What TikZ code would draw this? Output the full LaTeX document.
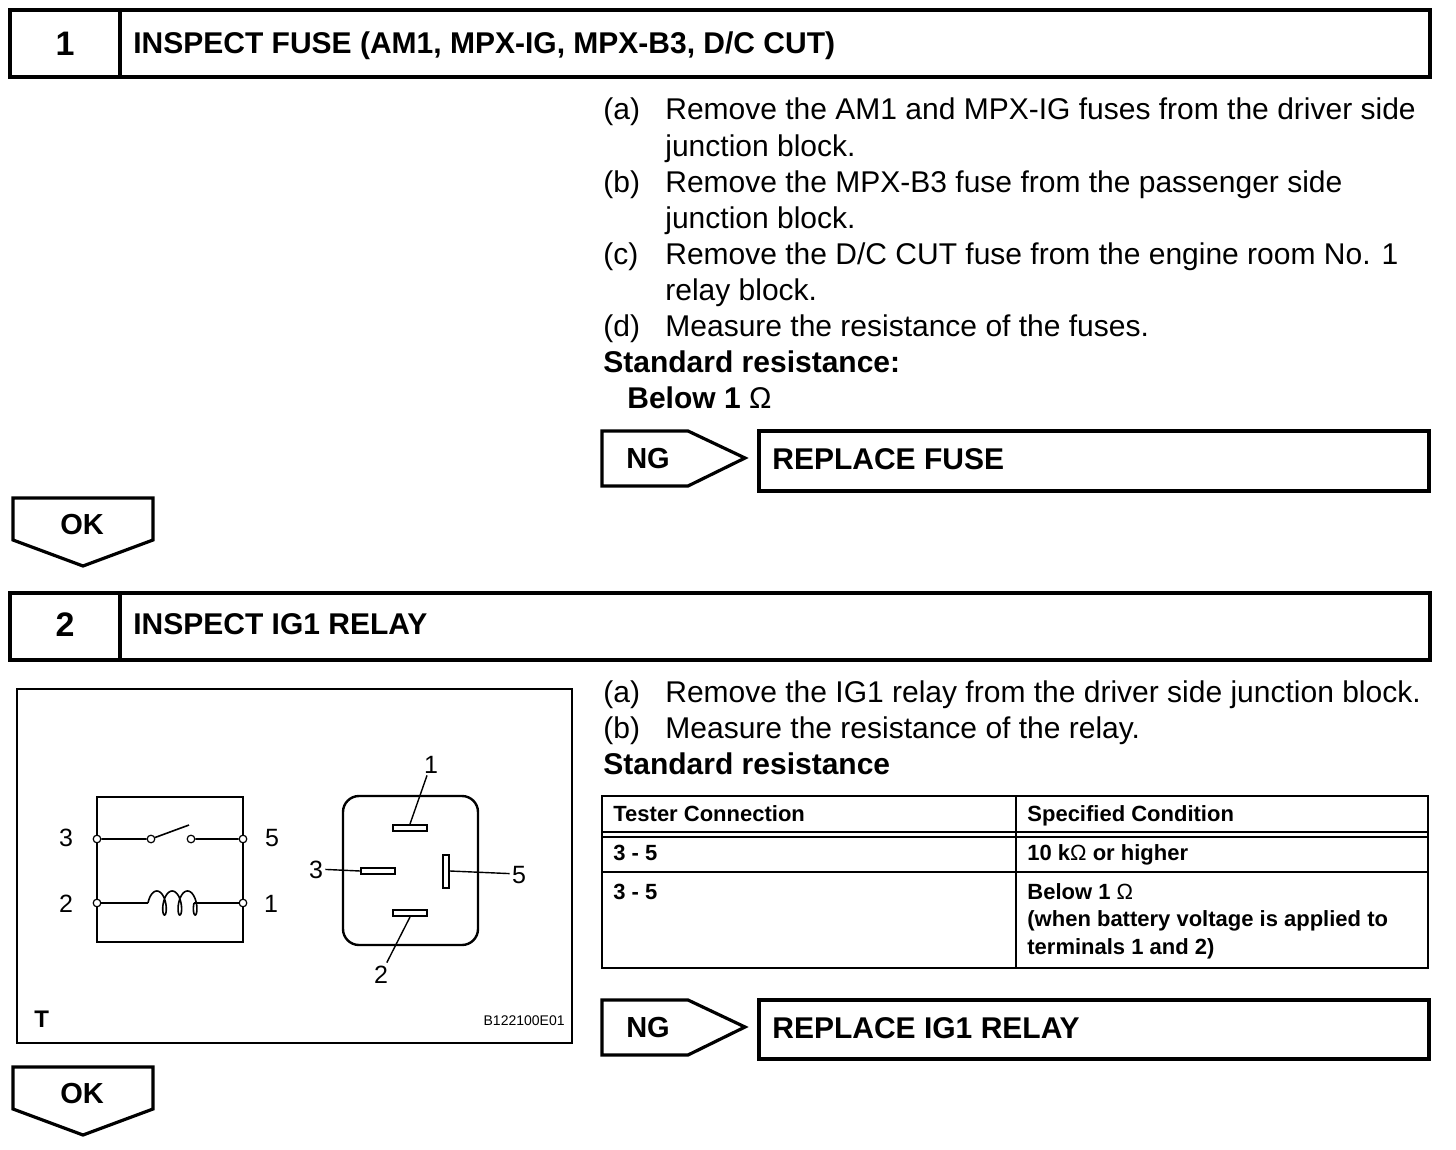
\documentclass[tikz,border=0pt]{standalone}
\usepackage{fontspec}
\setmainfont{Liberation Sans}

\begin{document}
\begin{tikzpicture}[x=0.5pt,y=-0.5pt,
    frame/.style={line width=1.6pt},
    fig/.style={line width=1.2pt},
    wire/.style={line width=0.8pt},
    lead/.style={line width=0.7pt},
    body/.style={anchor=west,inner sep=0pt,text height=10.8pt,text depth=0pt,font=\fontsize{15}{18}\selectfont},
    strong/.style={body,font=\fontsize{15}{18}\selectfont\bfseries},
    num/.style={inner sep=0pt,text height=12.2pt,text depth=0pt,font=\fontsize{17}{20}\selectfont\bfseries},
    tag/.style={inner sep=0pt,text height=10.4pt,text depth=0pt,font=\fontsize{14.5}{17}\selectfont\bfseries},
    cell/.style={body,text height=7.9pt,font=\fontsize{11}{13}\selectfont\bfseries},
    lbl/.style={inner sep=1pt,text height=9pt,text depth=0pt,font=\fontsize{12.5}{15}\selectfont},
    term/.style={circle,draw,fill=white,inner sep=0pt,minimum size=3.8pt,line width=0.6pt},
    pin/.style={draw,fill=white,inner sep=0pt,line width=1pt},
    ngtag/.pic={\draw[frame] (0,0) -- (86,0) -- (143,27) -- (86,55) -- (0,55) -- cycle;
                \node[tag] (-t) at (46,27) {NG};},
    oktag/.pic={\draw[frame] (0,0) -- (140,0) -- (140,42) -- (70,68) -- (0,42) -- cycle;
                \node[tag] (-t) at (69,26) {OK};}]
\useasboundingbox (0,0) rectangle (1456,1150);

% step 1
\draw[frame] (10,10) rectangle (1430,77) (120,10) -- (120,77);
\node[num] (n1) at (65,43) {1};
\node[strong] (h1) at (133,43) {INSPECT FUSE (AM1, MPX-IG, MPX-B3, D/C CUT)};

\node[body] (a1) at (603,109) {(a)};
\node[body] (a1t) at (665,109) {Remove the AM1 and MPX-IG fuses from the driver side};
\node[body] (a1c) at (665,146) {junction block.};
\node[body] (b1) at (603,182) {(b)};
\node[body] (b1t) at (665,182) {Remove the MPX-B3 fuse from the passenger side};
\node[body] (b1c) at (665,218) {junction block.};
\node[body] (c1) at (603,254) {(c)};
\node[body] (c1t) at (665,254) {Remove the D/C CUT fuse from the engine room No. 1};
\node[body] (c1c) at (665,290) {relay block.};
\node[body] (d1) at (603,326) {(d)};
\node[body] (d1t) at (665,326) {Measure the resistance of the fuses.};
\node[strong] (std1) at (603,362) {Standard resistance:};
\node[strong] (val1) at (627,398) {Below 1 {\mdseries Ω}};

\pic (ng1) at (602,431) {ngtag};
\draw[frame] (759,431) rectangle (1429,491);
\node[strong] (fix1) at (772,459) {REPLACE FUSE};
\pic (ok1) at (13,498) {oktag};

% step 2
\draw[frame] (10,593) rectangle (1430,660) (120,593) -- (120,660);
\node[num] (n2) at (65,624) {2};
\node[strong] (h2) at (133,624) {INSPECT IG1 RELAY};

\node[body] (a2) at (603,692) {(a)};
\node[body] (a2t) at (665,692) {Remove the IG1 relay from the driver side junction block.};
\node[body] (b2) at (603,728) {(b)};
\node[body] (b2t) at (665,728) {Measure the resistance of the relay.};
\node[strong] (std2) at (603,764) {Standard resistance};

% relay figure
\draw[fig] (17,689) rectangle (572,1043);
\draw[fig] (97,797) rectangle (243,942);
\node[term] (p3) at (97,839) {};
\node[term] (p5) at (243,839) {};
\node[term] (p2) at (97,903) {};
\node[term] (p1) at (243,903) {};
\node[term] (sw1) at (151,839) {};
\node[term] (sw2) at (191,839) {};
\coordinate (blade) at (189,825);
\coordinate (k1) at (148,903);
\coordinate (k2) at (194,903);
\draw[wire] (p3) -- (sw1) (sw1) -- (blade) (sw2) -- (p5);
\draw[wire] (p2) -- (k1) (k2) -- (p1);
\draw[wire] plot[domain=-90:990,samples=160,smooth] ({148+2.44*rad(\x+90)+5*(sin(\x)+1)},{903-12*cos(\x)});
\node[lbl] (l3) at (66,837) {3};
\node[lbl] (l5) at (272,837) {5};
\node[lbl] (l2) at (66,903) {2};
\node[lbl] (l1) at (271,903) {1};

\draw[fig,rounded corners=8pt] (343,796) rectangle (478,945);
\node[pin,minimum width=17pt,minimum height=3pt] (q1) at (410,828) {};
\node[pin,minimum width=17pt,minimum height=3pt] (q3) at (378,871) {};
\node[pin,minimum width=17pt,minimum height=3pt] (q2) at (410,913) {};
\node[pin,minimum width=3pt,minimum height=16.5pt] (q5) at (446,871) {};
\node[lbl] (t1) at (431,764) {1};
\node[lbl] (t3) at (316,869) {3};
\node[lbl] (t5) at (519,874) {5};
\node[lbl] (t2) at (381,974) {2};
\draw[lead] (t1) -- (q1.north);
\draw[lead] (t3) -- (q3.west);
\draw[lead] (t5) -- (q5.east);
\draw[lead] (t2) -- (q2.south);
\node[strong,text height=8.6pt,font=\fontsize{12}{14}\selectfont\bfseries] (tt) at (34,1019) {T};
\node[anchor=east,inner sep=0pt,font=\fontsize{7}{8}\selectfont] (code) at (565,1021) {B122100E01};

% table
\draw[wire] (602,796) rectangle (1428,968);
\draw[wire] (1016,796) -- (1016,968) (602,832) -- (1428,832) (602,837) -- (1428,837) (602,872) -- (1428,872);
\node[cell] (th1) at (613,814) {Tester Connection};
\node[cell] (th2) at (1027,814) {Specified Condition};
\node[cell] (r1a) at (613,853) {3 - 5};
\node[cell] (r1b) at (1027,853) {10 k{\mdseries Ω} or higher};
\node[cell] (r2a) at (613,892) {3 - 5};
\node[cell] (r2b) at (1027,892) {Below 1 {\mdseries Ω}};
\node[cell] (r2c) at (1027,919) {(when battery voltage is applied to};
\node[cell] (r2d) at (1027,947) {terminals 1 and 2)};

\pic (ng2) at (602,1000) {ngtag};
\draw[frame] (759,1000) rectangle (1429,1059);
\node[strong] (fix2) at (772,1028) {REPLACE IG1 RELAY};
\pic (ok2) at (13,1067) {oktag};
\end{tikzpicture}
\end{document}
